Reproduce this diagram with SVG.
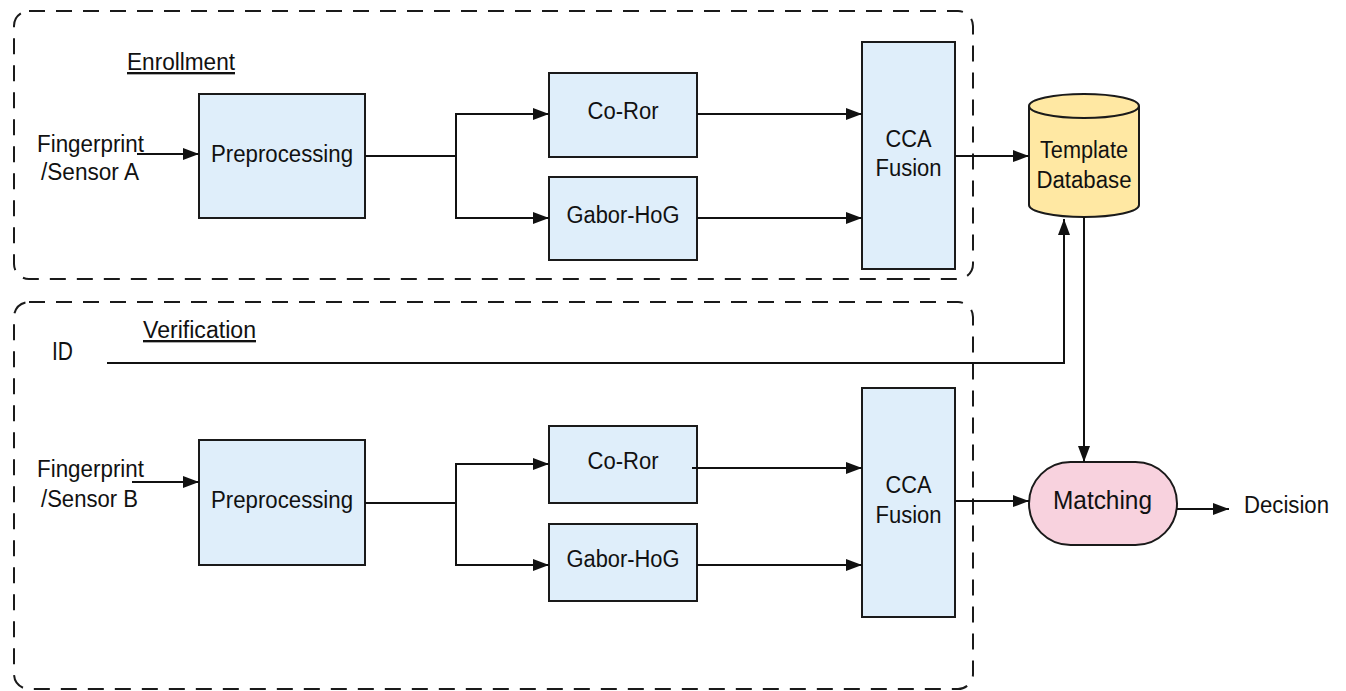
<svg xmlns="http://www.w3.org/2000/svg" width="1346" height="691" viewBox="0 0 1346 691">
<style>
text{font-family:"Liberation Sans",Arial,sans-serif;font-size:23.5px;fill:#111}
.c{text-anchor:middle}
.u{text-decoration:underline}
.box{fill:#dfeefa;stroke:#1a1a1a;stroke-width:2}
.grp{fill:none;stroke:#1a1a1a;stroke-width:2;stroke-dasharray:16 11}
.ln{fill:none;stroke:#111;stroke-width:2}
.ar{marker-end:url(#ah)}
</style>
<defs>
<marker id="ah" markerUnits="userSpaceOnUse" markerWidth="16" markerHeight="12" refX="16" refY="6" orient="auto">
<path d="M0,0 L16,6 L0,12 Z" fill="#111"/>
</marker>
</defs>
<rect width="1346" height="691" fill="#fff"/>

<g id="enrollment-group">
<rect class="grp" x="14" y="11" width="959" height="268" rx="15"/>
<text class="u" x="127" y="70" textLength="108" lengthAdjust="spacingAndGlyphs">Enrollment</text>
</g>
<g id="verification-group">
<rect class="grp" x="14" y="302" width="959" height="387" rx="15"/>
<text class="u" x="143" y="338" textLength="113" lengthAdjust="spacingAndGlyphs">Verification</text>
</g>

<g id="input-a">
<text class="c" x="90.5" y="152" textLength="107" lengthAdjust="spacingAndGlyphs">Fingerprint</text>
<text class="c" x="90" y="180" textLength="98" lengthAdjust="spacingAndGlyphs">/Sensor A</text>
</g>
<g id="prep-a">
<rect class="box" x="199" y="94" width="166" height="124"/>
<text class="c" x="282" y="162" textLength="142" lengthAdjust="spacingAndGlyphs">Preprocessing</text>
</g>
<g id="coror-a">
<rect class="box" x="549" y="73" width="148" height="84"/>
<text class="c" x="623" y="119" textLength="71" lengthAdjust="spacingAndGlyphs">Co-Ror</text>
</g>
<g id="gabor-a">
<rect class="box" x="549" y="177" width="148" height="83"/>
<text class="c" x="623" y="223" textLength="113" lengthAdjust="spacingAndGlyphs">Gabor-HoG</text>
</g>
<g id="cca-a">
<rect class="box" x="862" y="42" width="93" height="227"/>
<text class="c" x="908.5" y="147" textLength="46" lengthAdjust="spacingAndGlyphs">CCA</text>
<text class="c" x="908.5" y="176" textLength="66" lengthAdjust="spacingAndGlyphs">Fusion</text>
</g>
<g id="template-db">
<path d="M1029,106 A55,12 0 0 1 1139,106 V205 A55,12 0 0 1 1029,205 Z" fill="#ffe8a3" stroke="#1a1a1a" stroke-width="2"/>
<path d="M1029,106 A55,12 0 0 0 1139,106" fill="none" stroke="#1a1a1a" stroke-width="2"/>
<text class="c" x="1084" y="158" textLength="88" lengthAdjust="spacingAndGlyphs">Template</text>
<text class="c" x="1084" y="188" textLength="95" lengthAdjust="spacingAndGlyphs">Database</text>
</g>

<g id="id-label">
<text x="52" y="360" style="font-size:25px" textLength="21" lengthAdjust="spacingAndGlyphs">ID</text>
</g>
<g id="input-b">
<text class="c" x="90.5" y="477" textLength="107" lengthAdjust="spacingAndGlyphs">Fingerprint</text>
<text class="c" x="89.5" y="507" textLength="97" lengthAdjust="spacingAndGlyphs">/Sensor B</text>
</g>
<g id="prep-b">
<rect class="box" x="199" y="440" width="166" height="125"/>
<text class="c" x="282" y="508" textLength="142" lengthAdjust="spacingAndGlyphs">Preprocessing</text>
</g>
<g id="coror-b">
<rect class="box" x="549" y="426" width="148" height="77"/>
<text class="c" x="623" y="469" textLength="71" lengthAdjust="spacingAndGlyphs">Co-Ror</text>
</g>
<g id="gabor-b">
<rect class="box" x="549" y="524" width="148" height="77"/>
<text class="c" x="623" y="567" textLength="113" lengthAdjust="spacingAndGlyphs">Gabor-HoG</text>
</g>
<g id="cca-b">
<rect class="box" x="862" y="388" width="93" height="229"/>
<text class="c" x="908.5" y="493" textLength="46" lengthAdjust="spacingAndGlyphs">CCA</text>
<text class="c" x="908.5" y="523" textLength="66" lengthAdjust="spacingAndGlyphs">Fusion</text>
</g>
<g id="matching">
<rect x="1029" y="462" width="148" height="83" rx="41.5" fill="#f8d2de" stroke="#1a1a1a" stroke-width="2"/>
<text class="c" x="1102.5" y="509" style="font-size:25.5px" textLength="99" lengthAdjust="spacingAndGlyphs">Matching</text>
</g>
<g id="decision">
<text x="1244" y="513" textLength="85" lengthAdjust="spacingAndGlyphs">Decision</text>
</g>

<g id="connectors">
<path class="ln ar" d="M137,154 H199"/>
<path class="ln" d="M365,156 H456"/>
<path class="ln ar" d="M456,156 V114 H549"/>
<path class="ln ar" d="M456,156 V218 H549"/>
<path class="ln ar" d="M697,114 H862"/>
<path class="ln ar" d="M697,218 H862"/>
<path class="ln ar" d="M955,156 H1029"/>
<path class="ln ar" d="M132,482 H199"/>
<path class="ln" d="M365,503 H456"/>
<path class="ln ar" d="M456,503 V464 H549"/>
<path class="ln ar" d="M456,503 V565 H549"/>
<path class="ln ar" d="M692,468 H862"/>
<path class="ln ar" d="M697,565 H862"/>
<path class="ln ar" d="M955,501 H1029"/>
<path class="ln ar" d="M107,363 H1064 V219"/>
<path class="ln ar" d="M1084,217 V462"/>
<path class="ln ar" d="M1177,509 H1229"/>
</g>
</svg>
